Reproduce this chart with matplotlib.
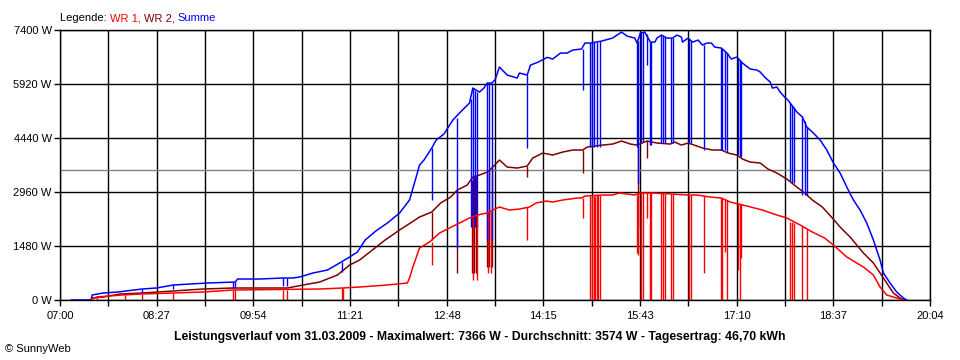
import numpy as np
import matplotlib
matplotlib.use("Agg")
import matplotlib.pyplot as plt
from matplotlib.offsetbox import TextArea, HPacker, AnchoredOffsetbox

summe = [("07:10", 0), ("07:28", 0), ("07:29", 137), ("07:39", 192), ("07:52", 219), ("08:14", 301),
         ("08:27", 329), ("08:42", 411), ("09:13", 466), ("09:38", 493), ("09:40", 575), ("10:00", 575),
         ("10:21", 603), ("10:30", 603), ("10:36", 630), ("10:48", 740), ("11:01", 822), ("11:12", 1014),
         ("11:21", 1178), ("11:28", 1315), ("11:35", 1644), ("11:45", 1900), ("11:55", 2110), ("12:06", 2384),
         ("12:15", 2740), ("12:22", 3480), ("12:24", 3699), ("12:28", 3836), ("12:35", 4165), ("12:39", 4384),
         ("12:46", 4548), ("12:54", 4932), ("13:00", 5124), ("13:09", 5398), ("13:12", 5809), ("13:18", 5699),
         ("13:22", 5809), ("13:25", 5946), ("13:29", 5946), ("13:32", 6028), ("13:36", 6384), ("13:43", 6165),
         ("13:52", 6083), ("13:54", 6220), ("14:01", 6165), ("14:04", 6439), ("14:11", 6521), ("14:19", 6650),
         ("14:24", 6604), ("14:31", 6768), ("14:37", 6768), ("14:42", 6850), ("14:50", 6878), ("14:53", 7042),
         ("14:58", 7042), ("15:08", 7096), ("15:18", 7179), ("15:26", 7343), ("15:31", 7233), ("15:38", 7179),
         ("15:40", 7042), ("15:43", 7316), ("15:47", 7343), ("15:52", 7069), ("15:56", 7069), ("15:58", 7179),
         ("16:02", 7261), ("16:07", 7179), ("16:12", 7179), ("16:16", 7261), ("16:20", 7206), ("16:21", 7069),
         ("16:26", 7179), ("16:30", 7069), ("16:35", 7124), ("16:39", 6987), ("16:43", 7042), ("16:47", 7042),
         ("16:50", 6932), ("16:56", 6905), ("17:01", 6768), ("17:05", 6604), ("17:10", 6658), ("17:15", 6494),
         ("17:22", 6330), ("17:28", 6302), ("17:31", 6248), ("17:35", 6110), ("17:40", 5973), ("17:42", 5809),
         ("17:46", 5836), ("17:49", 5699), ("17:53", 5562), ("17:56", 5480), ("18:04", 5151), ("18:09", 5015),
         ("18:13", 4740), ("18:18", 4603), ("18:25", 4384), ("18:31", 4110), ("18:37", 3754), ("18:43", 3480),
         ("18:49", 3096), ("18:55", 2740), ("19:01", 2466), ("19:07", 2110), ("19:13", 1644), ("19:19", 1096),
         ("19:22", 740), ("19:28", 466), ("19:34", 219), ("19:40", 55), ("19:43", 0)]

wr2 = [("07:28", 0), ("07:29", 55), ("07:39", 82), ("07:54", 164), ("08:14", 192), ("08:42", 247),
       ("09:09", 301), ("09:36", 329), ("10:25", 329), ("10:39", 411), ("10:54", 493), ("11:10", 685),
       ("11:21", 959), ("11:30", 1096), ("11:53", 1644), ("12:06", 1918), ("12:24", 2274), ("12:35", 2411),
       ("12:43", 2658), ("12:52", 2822), ("12:58", 3014), ("13:07", 3151), ("13:12", 3370), ("13:18", 3425),
       ("13:25", 3507), ("13:30", 3644), ("13:36", 3836), ("13:43", 3644), ("13:52", 3617), ("14:01", 3672),
       ("14:06", 3891), ("14:15", 4028), ("14:24", 3973), ("14:33", 4055), ("14:42", 4110), ("14:51", 4110),
       ("14:55", 4192), ("15:09", 4247), ("15:18", 4274), ("15:26", 4357), ("15:34", 4274), ("15:40", 4247),
       ("15:49", 4357), ("15:58", 4302), ("16:10", 4274), ("16:14", 4329), ("16:20", 4247), ("16:26", 4302),
       ("16:34", 4220), ("16:39", 4165), ("16:48", 4110), ("16:56", 4110), ("17:02", 4028), ("17:10", 3973),
       ("17:15", 3863), ("17:22", 3781), ("17:31", 3754), ("17:38", 3589), ("17:46", 3480), ("17:55", 3315),
       ("18:04", 3096), ("18:11", 2932), ("18:18", 2740), ("18:27", 2548), ("18:36", 2247), ("18:43", 2000),
       ("18:52", 1726), ("19:04", 1288), ("19:13", 1014), ("19:19", 740), ("19:25", 466), ("19:31", 192),
       ("19:37", 55), ("19:41", 0)]

wr1 = [("07:28", 0), ("07:29", 27), ("07:33", 82), ("07:56", 137), ("08:13", 164), ("08:42", 192),
       ("09:09", 219), ("09:36", 274), ("10:54", 301), ("11:15", 329), ("11:30", 356), ("11:55", 411),
       ("12:13", 466), ("12:15", 603), ("12:18", 904), ("12:24", 1425), ("12:33", 1589), ("12:42", 1836),
       ("12:51", 1973), ("13:00", 2110), ("13:09", 2247), ("13:16", 2329), ("13:25", 2384), ("13:30", 2466),
       ("13:36", 2548), ("13:45", 2466), ("13:54", 2493), ("14:03", 2548), ("14:09", 2658), ("14:18", 2712),
       ("14:24", 2685), ("14:33", 2740), ("14:46", 2795), ("14:50", 2795), ("14:53", 2849), ("15:09", 2877),
       ("15:18", 2877), ("15:24", 2932), ("15:38", 2877), ("15:43", 2932), ("15:54", 2932), ("16:12", 2904),
       ("16:25", 2877), ("16:34", 2877), ("16:46", 2822), ("16:56", 2795), ("17:04", 2685), ("17:19", 2576),
       ("17:33", 2466), ("17:46", 2329), ("17:55", 2247), ("18:07", 2055), ("18:18", 1863), ("18:29", 1699),
       ("18:37", 1507), ("18:49", 1178), ("19:04", 904), ("19:13", 685), ("19:19", 356), ("19:25", 137),
       ("19:34", 55), ("19:40", 0)]

# Einbrueche: (Zeit, oberer Wert, unterer Wert)
summe_drops = [("08:14", 301, 192), ("08:42", 411, 301), ("09:36", 493, 329), ("09:38", 493, 329),
               ("10:21", 603, 384), ("10:25", 603, 384), ("11:14", 1050, 767), ("12:35", 4165, 2740),
               ("12:58", 5000, 1425), ("13:10", 5500, 2000), ("13:12", 5809, 2000), ("13:14", 5750, 2000),
               ("13:16", 5700, 2000), ("13:25", 5946, 1644), ("13:27", 5946, 1644), ("13:29", 5946, 1644),
               ("14:01", 6165, 4165), ("14:51", 6878, 5754), ("14:58", 7042, 4200), ("14:59", 7042, 4200),
               ("15:01", 7060, 4200), ("15:04", 7070, 4200), ("15:07", 7090, 4200), ("15:40", 7042, 4192),
               ("15:41", 7100, 3206), ("15:44", 7343, 4329), ("15:45", 7343, 4329), ("15:49", 7300, 6439),
               ("15:52", 7069, 4247), ("15:53", 7069, 4247), ("16:02", 7261, 4302), ("16:03", 7250, 4302),
               ("16:05", 7220, 4302), ("16:11", 7179, 4302), ("16:12", 7179, 4302), ("16:27", 7150, 4302),
               ("16:29", 7100, 4302), ("16:40", 7000, 4110), ("16:56", 6905, 4110), ("16:57", 6880, 4110),
               ("16:59", 6820, 4110), ("17:01", 6768, 4055), ("17:11", 6630, 3973), ("17:13", 6580, 3945),
               ("17:14", 6520, 3918), ("17:58", 5400, 3260), ("18:00", 5350, 3206), ("18:01", 5300, 3206),
               ("18:09", 5015, 2877), ("18:11", 4900, 2877), ("18:13", 4740, 2877)]

wr2_drops = [("12:35", 2411, 1644), ("12:58", 3014, 740), ("13:11", 3300, 740), ("13:13", 3380, 740),
             ("13:15", 3400, 740), ("13:25", 3507, 904), ("13:27", 3550, 904), ("13:29", 3620, 904),
             ("14:01", 3672, 3370), ("14:51", 4110, 3480), ("15:41", 4247, 1973), ("15:49", 4357, 3891)]

wr1_drops = [("07:33", 82, 0), ("07:59", 137, 0), ("08:14", 164, 0), ("08:42", 192, 0), ("09:36", 274, 0),
             ("09:38", 274, 0), ("10:21", 274, 0), ("10:25", 274, 0), ("11:14", 329, 0), ("11:15", 329, 0),
             ("12:35", 1600, 959), ("13:12", 2260, 548), ("13:16", 2329, 548), ("13:26", 2400, 740),
             ("13:28", 2440, 740), ("14:01", 2548, 1644), ("14:51", 2795, 2247), ("14:58", 2849, 0),
             ("14:59", 2849, 0), ("15:01", 2860, 0), ("15:02", 2860, 0), ("15:04", 2870, 0), ("15:05", 2870, 0),
             ("15:07", 2877, 0), ("15:40", 2877, 1288), ("15:41", 2900, 1233), ("15:44", 2932, 0),
             ("15:45", 2932, 0), ("15:49", 2932, 2250), ("15:52", 2932, 0), ("15:53", 2932, 0), ("16:02", 2920, 0),
             ("16:03", 2920, 0), ("16:05", 2915, 0), ("16:11", 2904, 0), ("16:12", 2904, 0), ("16:27", 2877, 0),
             ("16:29", 2877, 0), ("16:40", 2850, 740), ("16:56", 2795, 0), ("16:57", 2790, 0),
             ("16:59", 2760, 1315), ("17:01", 2730, 0), ("17:11", 2650, 822), ("17:13", 2640, 0),
             ("17:14", 2630, 1151), ("17:58", 2150, 0), ("18:00", 2130, 0), ("18:01", 2120, 0), ("18:09", 2030, 0),
             ("18:13", 1950, 0)]

durchschnitt = 3574
y_ticks = [0, 1480, 2960, 4440, 5920, 7400]
x_labels = ["07:00", "08:27", "09:54", "11:21", "12:48", "14:15", "15:43", "17:10", "18:37", "20:04"]


def minutes(hhmm):
    h, m = hhmm.split(":")
    return (int(h) - 7) * 60 + int(m)


def series(data):
    return [minutes(t) for t, _ in data], [v for _, v in data]


font = "Liberation Sans"
plt.rcParams["font.family"] = font

fig = plt.figure(figsize=(9.6, 3.6), dpi=100)
ax = fig.add_axes([60 / 960, 60 / 360, 870 / 960, 270 / 360])

x_end = minutes("20:04")
grid_x = np.linspace(0, x_end, 19)
for gx in grid_x:
    ax.axvline(gx, color="black", lw=1, zorder=1)
for gy in y_ticks:
    ax.axhline(gy, color="black", lw=1, zorder=1)
ax.axhline(durchschnitt, color="#808080", lw=1, zorder=1.5)

colors = {"summe": "#0000ff", "wr2": "#800000", "wr1": "#ff0000"}
for name, data, drops, z in [("wr2", wr2, wr2_drops, 3), ("summe", summe, summe_drops, 4), ("wr1", wr1, wr1_drops, 5)]:
    x, y = series(data)
    ax.plot(x, y, color=colors[name], lw=1.1, zorder=z)
    dx = [minutes(t) for t, _, _ in drops]
    top = [a for _, a, _ in drops]
    low = [b for _, _, b in drops]
    ax.vlines(dx, low, top, color=colors[name], lw=1, zorder=z)

ax.set_xlim(0, x_end)
ax.set_ylim(0, 7400)
ax.set_yticks(y_ticks)
ax.set_yticklabels([f"{v} W" for v in y_ticks])
ax.set_xticks(grid_x)
ax.set_xticklabels([x_labels[i // 2] if i % 2 == 0 else "" for i in range(19)])
ax.tick_params(axis="both", length=4, width=1, color="black", labelsize=8, pad=2)
ax.tick_params(axis="x", pad=4)
for s in ax.spines.values():
    s.set_linewidth(1)
    s.set_zorder(6)

parts = [("Legende: ", "black"), ("WR 1, ", "#ff0000"), ("WR 2, ", "#800000"), ("Summe", "#0000ff")]
boxes = [TextArea(t, textprops=dict(color=c, fontsize=8, family=font)) for t, c in parts]
pack = HPacker(children=boxes, sep=0, pad=0, align="baseline")
legend = AnchoredOffsetbox(loc="lower left", child=pack, frameon=False, pad=0, borderpad=0,
                           bbox_to_anchor=(0, 1.025), bbox_transform=ax.transAxes)
ax.add_artist(legend)

fig.text(480 / 960, 1 - 337 / 360,
         "Leistungsverlauf vom 31.03.2009 - Maximalwert: 7366 W - Durchschnitt: 3574 W - Tagesertrag: 46,70 kWh",
         ha="center", va="center", fontsize=8.8, fontweight="bold")
fig.text(5 / 960, 1 - 349 / 360, "\u00a9 SunnyWeb", ha="left", va="center", fontsize=8)

fig.savefig("out.png", dpi=100)
